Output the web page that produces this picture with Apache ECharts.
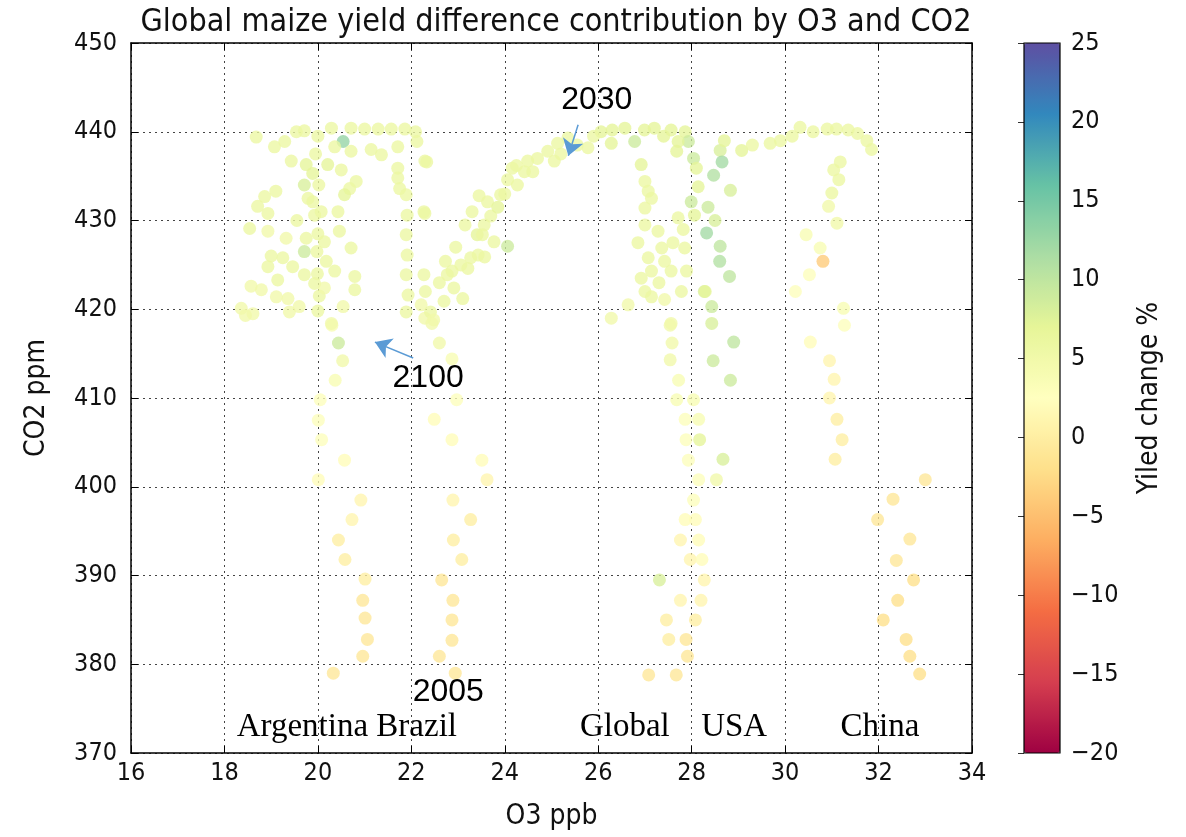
<!DOCTYPE html>
<html>
<head>
<meta charset="utf-8">
<style>html,body{margin:0;padding:0;background:#fff}#c{width:1186px;height:837px}</style>
<script src="https://cdn.jsdelivr.net/npm/echarts@6/dist/echarts.min.js"></script>
</head>
<body>
<div id="c"></div>
<script>
// ---------- DATA ----------
// Argentina upper cluster
const argUpO3  = [18.68,19.07,19.29,19.54,19.71,19.43,19.75,19.71,19.89,19.10,18.86,18.71,18.93,19.79,19.89,19.93,18.54,18.93,19.32,19.75,19.71,18.93,19.25,19.46,18.57,18.79,19.14,19.36,19.11,19.71,18.36,18.61,19.39,19.93,18.45,19.60,19.00,19.55,19.95,19.98,19.99,20.00,20.00,20.02,20.00,20.03,
                  20.29,20.71,20.54,20.36,20.21,20.71,20.50,20.82,20.68,20.57,20.07,20.43,20.46,20.14,20.71,20.18,20.36,20.79,20.14,20.79,20.54,
                  21.00,21.29,21.57,21.86,21.14,21.36,21.71,21.71,21.75,21.71,22.29,21.89,22.29,21.91,21.89,21.91,21.89,21.93,21.89,22.21,22.29,22.09,22.12];
const argUpCO2 = [439.4,438.3,438.9,440.0,440.1,436.7,436.3,434.0,435.3,433.3,432.7,431.6,430.8,432.5,432.1,430.6,429.1,428.8,428.0,428.0,426.5,424.8,425.8,424.8,422.6,422.2,423.3,421.2,421.4,423.9,420.1,419.5,419.7,422.9,419.3,420.3,426.0,430.0,437.5,426.5,424.0,419.8,439.5,434.0,428.5,421.5,
                  440.4,440.4,438.9,438.3,436.3,437.8,435.7,434.4,433.6,432.9,431.0,431.0,428.8,427.6,426.9,425.4,424.3,423.7,422.4,422.2,420.3,
                  440.3,440.3,440.3,440.3,438.0,437.4,438.3,435.9,433.6,434.8,436.7,432.9,430.8,430.6,428.4,426.1,423.9,421.6,419.7,420.5,419.0,440.0,438.9];
const argUpYield = [6,6,6,6,6,6,7,8,7,6,6,6,6,6,6,6,6,5,5,6,9,6,6,6,5,5,6,5,5,6,5,5,5,6,5,5,6,6,6,6,6,6,6,6,6,6,
                  6,6,13,6,7,6,6,6,6,7,6,6,6,6,6,6,6,6,5,6,5,
                  6,6,6,6,6,6,6,6,6,6,6,6,6,6,6,6,6,6,6,5,5,6,6];
// Argentina lower trail
const argLowO3  = [20.30,20.44,20.53,20.37,20.05,20.01,20.08,20.57,20.01,20.92,20.73,20.44,20.58,21.01,20.96,21.01,21.06,20.96,20.33,20.29];
const argLowCO2 = [418.2,416.2,414.2,412.0,409.8,407.5,405.3,403.0,400.8,398.5,396.3,394.0,391.8,389.6,387.2,385.2,382.8,380.9,379.0,418.4];
const argLowYield = [4,9,5,4,3,3,3,2,2,1,1,0,0,0,-1,-1,-1,-1,-1,5];
// Brazil arc
const brArcO3  = [22.27,22.30,22.41,22.48,22.70,22.91,22.73,22.87,23.10,23.21,23.43,23.57,23.41,23.30,23.70,23.77,23.56,23.63,23.91,24.06,24.27,24.06,24.16,24.42,24.49,24.70,25.06,24.92,25.13,25.35,25.78,22.77,23.06,23.27,23.52,22.60,22.95,23.15,23.85,24.00,24.60,25.20,25.55,22.33,22.27,23.45,24.25];
const brArcCO2 = [423.9,422.0,419.7,418.8,420.9,422.4,425.4,424.3,421.2,424.6,426.1,425.9,428.4,431.0,430.5,427.6,429.5,432.1,432.9,427.1,434.0,434.6,435.9,435.5,436.7,437.0,436.7,437.8,438.7,439.3,438.2,423.9,425.0,425.8,428.4,423.0,427.0,429.5,431.5,433.0,435.5,437.5,438.5,436.6,431.0,432.8,436.2];
const brArcYield = [6,6,6,5,6,6,6,6,6,6,6,6,7,6,6,6,6,6,6,9,6,6,6,6,6,6,6,6,6,6,6,6,6,6,6,6,6,6,7,6,6,6,6,6,6,6,6];
// Brazil lower trail
const brLowO3  = [22.44,22.60,22.87,22.97,22.49,22.87,23.51,23.62,22.89,23.27,22.90,23.08,22.65,22.89,22.87,22.87,22.60,22.94];
const brLowCO2 = [418.4,416.2,414.4,409.8,407.6,405.3,403.0,400.8,398.5,396.3,394.0,391.8,389.5,387.2,385.0,382.7,380.9,379.0];
const brLowYield = [5,5,4,3,2,2,2,1,1,0,0,0,-1,-1,-1,-1,-1,-1];
// Global upper
const glUpO3  = [26.06,26.28,26.57,26.78,26.99,27.20,27.56,27.86,27.93,28.04,28.10,28.14,27.99,28.06,27.71,27.68,26.30,25.90,27.40,
                 26.92,27.00,27.07,27.00,27.14,27.28,27.36,27.42,27.56,27.07,27.14,26.92,27.00,27.14,26.64,26.28,27.42,27.56,27.78,27.89,27.85,27.82,27.71,27.00,27.60,26.85,27.30];
const glUpCO2 = [440.0,438.7,440.4,438.9,440.2,440.4,440.2,440.0,438.9,437.0,435.9,433.8,432.1,430.6,438.9,437.8,440.2,439.5,439.5,
                 436.3,434.4,433.3,431.4,432.5,428.8,426.9,425.4,424.3,425.8,424.3,423.5,422.0,421.4,420.5,419.0,421.1,418.4,422.0,424.3,426.9,429.0,430.3,429.5,427.5,427.5,423.0];
const glUpYield = [7,7,7,9,7,7,7,7,9,9,7,7,9,7,7,7,7,6,7,
                 7,6,6,6,6,6,6,6,6,6,6,6,6,6,5,5,5,5,6,6,6,6,6,6,6,6,6];
// Global lower trail
const glLowO3  = [27.54,27.58,27.54,27.72,27.68,27.86,27.88,27.93,27.86,27.76,27.97,27.31,27.76,27.46,27.51,27.88,27.91,27.08,27.67];
const glLowCO2 = [418.2,416.2,414.3,412.0,409.8,407.6,405.3,403.0,396.3,394.0,391.8,389.5,387.2,385.0,382.8,382.8,380.9,378.8,378.8];
const glLowYield = [5,5,5,4,4,3,3,3,2,1,1,8,1,0,0,-1,-1,-1,-1];
// USA
const usaO3  = [28.61,28.65,28.47,29.07,28.83,28.32,28.61,28.60,28.81,28.27,28.43,28.43,28.90,28.46,28.83,28.67,28.53,28.35,28.50,29.30,28.70,28.29,
                28.04,28.15,28.17,28.15,28.04,28.08,28.15,28.22,28.27,28.20,28.08];
const usaCO2 = [437.9,436.6,435.1,437.9,433.4,428.6,427.1,425.4,423.7,422.0,420.3,418.4,416.3,414.2,412.0,403.1,400.8,431.5,430.0,438.5,439.0,422.0,
                409.8,407.6,405.3,400.8,398.5,396.3,394.0,391.8,389.5,387.2,385.0];
const usaYield = [8,12,11,7,8,12,10,11,10,8,9,8,10,9,9,8,5,9,8,6,7,7,
                4,4,7,3,3,2,2,2,1,1,0];
// China
const chO3  = [30.32,29.68,29.90,30.60,30.90,31.10,31.35,31.55,31.75,31.85,30.15,
               31.18,31.04,31.15,31.00,30.93,31.11,30.45,30.75,30.81,30.52,30.22,31.25,31.27,30.54,
               30.95,31.05,30.95,31.11,31.22,31.07,33.00,32.31,31.98,32.67,32.38,32.75,32.41,32.10,32.59,32.67,32.88];
const chCO2 = [440.5,438.7,439.0,440.0,440.3,440.3,440.2,439.8,439.0,438.0,439.5,
               436.6,435.7,434.6,433.1,431.6,429.7,428.4,426.9,425.4,423.9,422.0,420.1,418.2,416.3,
               414.2,412.1,410.0,407.6,405.3,403.1,400.8,398.6,396.3,394.1,391.7,389.5,387.2,385.0,382.8,380.9,378.9];
const chYield = [6,6,6,6,6,6,6,6,6,6,6,
               6,6,6,6,5,5,4,4,-4,3,3,4,3,2,
               1,1,1,0,0,0,-1,-1,-1,-1,-1,-2,-2,-2,-2,-2,-2];

// Axis ticks
const xMin = 16, xMax = 34, xStep = 2;
const yMin = 370, yMax = 450, yStep = 10;
const cMin = -20, cMax = 25, cStep = 5;

// Annotations
const yearText = ['2030', '2100', '2005'];
const yearX    = [25.97, 22.36, 22.79];
const yearY    = [443.6, 412.2, 376.8];
const countryText = ['Argentina Brazil', 'Global', 'USA', 'China'];
const countryX    = [20.62, 26.57, 28.91, 32.03];
const countryY    = [372.9, 372.9, 372.9, 372.9];
const arrowFromX = [25.57, 22.04];
const arrowFromY = [440.8, 414.5];
const arrowToX   = [25.36, 21.22];
const arrowToY   = [437.3, 416.3];

// ---------- BUILD ----------
function pts(xs, ys, vs) { return xs.map((x, i) => [x, ys[i], vs[i]]); }
const points = [].concat(
  pts(argUpO3, argUpCO2, argUpYield),
  pts(argLowO3, argLowCO2, argLowYield),
  pts(brArcO3, brArcCO2, brArcYield),
  pts(brLowO3, brLowCO2, brLowYield),
  pts(glUpO3, glUpCO2, glUpYield),
  pts(glLowO3, glLowCO2, glLowYield),
  pts(usaO3, usaCO2, usaYield),
  pts(chO3, chCO2, chYield)
);

const spectral = ['#9e0142','#d53e4f','#f46d43','#fdae61','#fee08b','#ffffbf','#e6f598','#abdda4','#66c2a5','#3288bd','#5e4fa2'];
const sans = "'DejaVu Sans Condensed', 'DejaVu Sans', sans-serif";
const tickFont = { fontSize: 25, color: '#111', fontFamily: sans };
const nameFont = { fontSize: 28, color: '#111', fontFamily: sans };

const chart = echarts.init(document.getElementById('c'), null, { renderer: 'canvas' });

const yearLabel = { fontFamily: "'Liberation Sans', Arial, sans-serif", fontSize: 32, color: '#000', opacity: 1 };
const countryLabel = { fontFamily: "'Liberation Serif', 'Times New Roman', serif", fontSize: 33, color: '#000', opacity: 1 };

const annoData = yearText.map((t, i) => ({ value: [yearX[i], yearY[i]], name: t, label: yearLabel }))
  .concat(countryText.map((t, i) => ({ value: [countryX[i], countryY[i]], name: t, label: countryLabel })));

const arrowData = arrowFromX.map((x, i) => ({
  coords: [[x, arrowFromY[i]], [arrowToX[i], arrowToY[i]]]
}));

const mainAxisX = {
  type: 'value', gridIndex: 0, min: xMin, max: xMax, interval: xStep,
  axisLine: { show: true, onZero: false, lineStyle: { color: '#000', width: 1.5 } },
  axisTick: { show: true, inside: true, length: 7, lineStyle: { color: '#000', width: 1 } },
};
const mainAxisY = {
  type: 'value', gridIndex: 0, min: yMin, max: yMax, interval: yStep,
  axisLine: { show: true, onZero: false, lineStyle: { color: '#000', width: 1.5 } },
  axisTick: { show: true, inside: true, length: 7, lineStyle: { color: '#000', width: 1 } },
};

chart.setOption({
  animation: false,
  backgroundColor: '#fff',
  title: {
    text: 'Global maize yield difference contribution by O3 and CO2',
    left: 551, top: 2, textAlign: 'center',
    textStyle: { fontFamily: sans, fontWeight: 'normal', fontSize: 32, color: '#111' }
  },
  grid: [
    { left: 131, right: 214, top: 43, bottom: 84, containLabel: false },
    { left: 1024, width: 36, top: 43, bottom: 84, show: true, z: 10,
      backgroundColor: 'transparent', borderColor: '#000', borderWidth: 1.2 }
  ],
  xAxis: [
    Object.assign({}, mainAxisX, {
      position: 'bottom',
      name: 'O3 ppb', nameLocation: 'middle', nameGap: 50,
      nameTextStyle: nameFont,
      axisLabel: Object.assign({ margin: 8 }, tickFont),
      splitLine: { show: true, lineStyle: { type: [2, 4], color: '#444', width: 1 } }
    }),
    Object.assign({}, mainAxisX, { position: 'top', axisLabel: { show: false }, splitLine: { show: false } }),
    { type: 'value', gridIndex: 1, min: 0, max: 1, show: false }
  ],
  yAxis: [
    Object.assign({}, mainAxisY, {
      position: 'left',
      name: 'CO2 ppm', nameLocation: 'middle', nameGap: 80,
      nameTextStyle: nameFont,
      axisLabel: Object.assign({ margin: 14 }, tickFont),
      splitLine: { show: true, lineStyle: { type: [2, 4], color: '#444', width: 1 } }
    }),
    Object.assign({}, mainAxisY, { position: 'right', axisLabel: { show: false }, splitLine: { show: false } }),
    {
      type: 'value', gridIndex: 1, position: 'right', min: cMin, max: cMax, interval: cStep,
      axisLine: { show: false },
      axisTick: { show: true, inside: true, length: 6, lineStyle: { color: '#333', width: 1 } },
      axisLabel: Object.assign({ margin: 11 }, tickFont, {
        formatter: v => (v < 0 ? '\u2212' + Math.abs(v) : String(v))
      }),
      splitLine: { show: false },
      name: 'Yiled change %', nameLocation: 'middle', nameGap: 76, nameRotate: 90,
      nameTextStyle: nameFont
    }
  ],
  visualMap: {
    type: 'continuous', seriesIndex: 0, dimension: 2,
    min: cMin, max: cMax, calculable: false, realtime: false,
    left: 1024, top: 43, itemWidth: 36, itemHeight: 710, padding: 0,
    text: ['', ''], textGap: 0, hoverLink: false,
    inRange: { color: spectral }
  },
  series: [
    {
      type: 'scatter', xAxisIndex: 0, yAxisIndex: 0,
      data: points, symbolSize: 13,
      itemStyle: { opacity: 0.78 },
      emphasis: { disabled: true }, z: 3
    },
    {
      type: 'scatter', xAxisIndex: 0, yAxisIndex: 0,
      data: annoData, symbolSize: 1, silent: true, z: 5,
      itemStyle: { color: 'rgba(0,0,0,0)' },
      label: { show: true, position: 'inside', formatter: p => p.name, color: '#000', textBorderWidth: 0 },
      emphasis: { disabled: true }
    },
    {
      type: 'lines', coordinateSystem: 'cartesian2d', xAxisIndex: 0, yAxisIndex: 0,
      data: arrowData, silent: true, z: 6,
      symbol: ['none', 'arrow'], symbolSize: 16,
      lineStyle: { color: '#5b9bd5', width: 1.5, opacity: 1, curveness: 0 }
    }
  ]
});
</script>
</body>
</html>
